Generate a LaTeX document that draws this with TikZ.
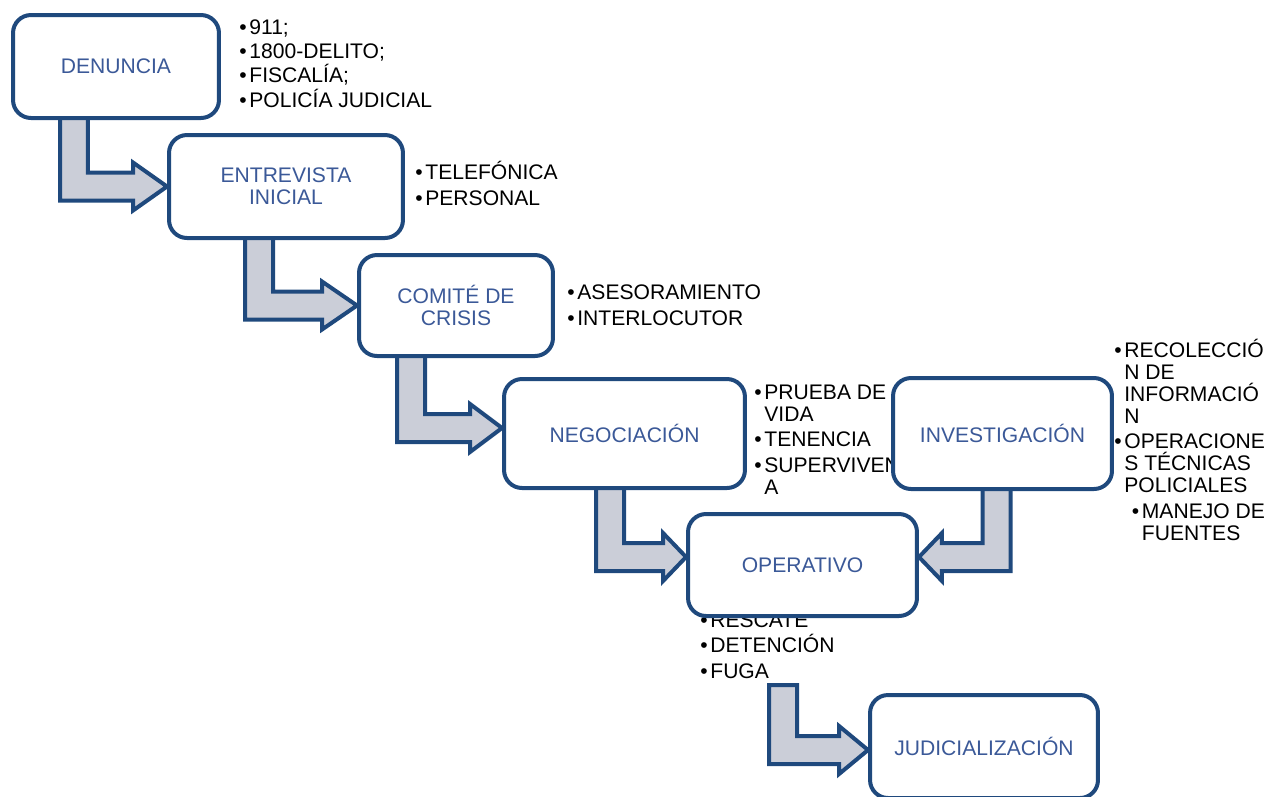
\documentclass[tikz,border=0pt]{standalone}
\usepackage{fontspec}
\setmainfont{Liberation Sans}
\usetikzlibrary{calc,backgrounds}

\definecolor{navy}{RGB}{31,73,125}
\definecolor{labelblue}{RGB}{59,89,152}
\definecolor{arrowgray}{RGB}{203,206,216}

\newcommand\stemhalf{0.28cm}
\newcommand\headhalf{0.48cm}
\newcommand\itm{\textbullet\kern1.5pt}
\newcommand\hang{\hphantom{\itm}}

% start of stem, tip, 1 = right / -1 = left, head length
\newcommand\bentarrow[4]{%
  \draw[flowarrow] let \p1=(#1), \p2=(#2) in
    ({\x1-#3*\stemhalf},\y1) -- ({\x1-#3*\stemhalf},{\y2-\stemhalf})
    -- ({\x2-#3*#4},{\y2-\stemhalf}) -- ({\x2-#3*#4},{\y2-\headhalf}) -- (\x2,\y2)
    -- ({\x2-#3*#4},{\y2+\headhalf}) -- ({\x2-#3*#4},{\y2+\stemhalf})
    -- ({\x1+#3*\stemhalf},{\y2+\stemhalf}) -- ({\x1+#3*\stemhalf},\y1) -- cycle;
}

\tikzset{
  stage/.style={draw=navy, line width=0.08cm, rounded corners=0.36cm, fill=white,
    text=labelblue, align=center, font=\fontsize{12}{12.5}\selectfont},
  notes/.style={anchor=base west, align=left, inner sep=0pt,
    font=\fontsize{12}{12.5}\selectfont},
  flowarrow/.style={draw=navy, fill=arrowgray, line width=0.08cm}
}

\begin{document}
\begin{tikzpicture}[x=0.02cm,y=-0.02cm]
  \useasboundingbox (0,0) rectangle (1270,796);

  \node[notes] (denlist) at (239,107) {\itm 911;\\[1.2pt]\itm 1800-DELITO;\\[1.2pt]\itm FISCALÍA;\\[1.2pt]\itm POLICÍA JUDICIAL};
  \node[notes] (entlist) at (415,205) {\itm TELEFÓNICA\\[2pt]\itm PERSONAL};
  \node[notes] (comlist) at (567,325) {\itm ASESORAMIENTO\\[2pt]\itm INTERLOCUTOR};
  \node[notes] (neglist) at (754,494) {\itm PRUEBA DE\\\hang VIDA\\[2pt]\itm TENENCIA\\[2pt]\itm SUPERVIVENCI\\\hang A};
  \node[notes] (invlist) at (1114,540) {\itm RECOLECCIÓ\\\hang N DE\\\hang INFORMACIÓ\\\hang N\\[2pt]\itm OPERACIONE\\\hang S TÉCNICAS\\\hang POLICIALES\\[2pt]\hspace*{10pt}\itm MANEJO DE\\\hspace*{10pt}\hang FUENTES};
  \node[notes] (oplist) at (700,678) {\itm RESCATE\\[2pt]\itm DETENCIÓN\\[2pt]\itm FUGA};

  \node[stage, minimum width=4.12cm, minimum height=2.06cm] (den) at (116,66.5) {DENUNCIA};
  \node[stage, minimum width=4.68cm, minimum height=2.06cm] (ent) at (286,186.5) {ENTREVISTA\\INICIAL};
  \node[stage, minimum width=3.88cm, minimum height=2.02cm] (com) at (456,305.5) {COMITÉ DE\\CRISIS};
  \node[stage, minimum width=4.82cm, minimum height=2.18cm] (neg) at (624.5,433.5) {NEGOCIACIÓN};
  \node[stage, minimum width=4.38cm, minimum height=2.22cm] (inv) at (1002.5,433.5) {INVESTIGACIÓN};
  \node[stage, minimum width=4.58cm, minimum height=2.04cm] (op) at (802.5,565) {OPERATIVO};
  \node[stage, minimum width=4.56cm, minimum height=2.06cm] (jud) at (984,746.5) {JUDICIALIZACIÓN};

  \coordinate (denout) at ($(den.south)+(-42,-10)$);
  \coordinate (entout) at ($(ent.south)+(-27,-10)$);
  \coordinate (comout) at ($(com.south)+(-45,-10)$);
  \coordinate (negout) at ($(neg.south)+(-14.5,-10)$);
  \coordinate (invout) at ($(inv.south)+(-6,-10)$);
  \coordinate (fugaend) at (783,685);
  \coordinate (negin) at ($(neg.west)+(0,-5.5)$);
  \coordinate (opinl) at ($(op.west)+(0,-8)$);
  \coordinate (opinr) at ($(op.east)+(0,-8)$);
  \coordinate (judin) at ($(jud.west)+(0,3.5)$);

  \begin{pgfonlayer}{background}
    \bentarrow{denout}{ent.west}{1}{0.68cm}
    \bentarrow{entout}{com.west}{1}{0.7cm}
    \bentarrow{comout}{negin}{1}{0.64cm}
    \bentarrow{negout}{opinl}{1}{0.46cm}
    \bentarrow{invout}{opinr}{-1}{0.46cm}
    \bentarrow{fugaend}{judin}{1}{0.58cm}
  \end{pgfonlayer}
\end{tikzpicture}
\end{document}
